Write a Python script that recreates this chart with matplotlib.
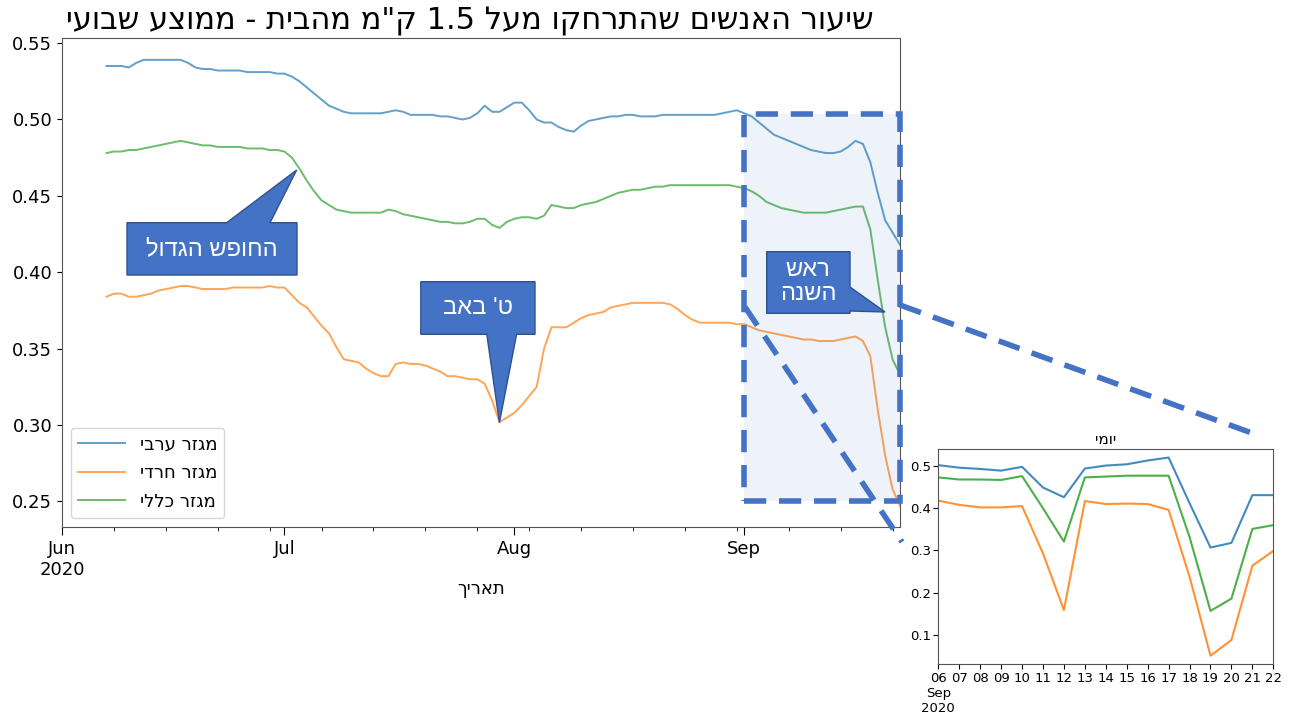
import re
import numpy as np
import pandas as pd
import matplotlib
matplotlib.use('Agg')
import matplotlib.pyplot as plt
import matplotlib.dates as mdates
from matplotlib.patches import Polygon, Rectangle
from matplotlib.ticker import FuncFormatter

plt.rcParams['font.family'] = ['DejaVu Sans']


def heb(s):
    # matplotlib has no bidi: flip the hebrew, keep numbers readable
    s = s[::-1]
    return re.sub(r'[0-9.]+', lambda m: m.group()[::-1], s)


# weekly rolling mean, Jun 7 .. Sep 22 2020
dates = pd.date_range('2020-06-07', '2020-09-22', freq='D')

arab = [0.535, 0.535, 0.535, 0.534, 0.537, 0.539, 0.539, 0.539, 0.539, 0.539, 0.539, 0.537,
        0.534, 0.533, 0.533, 0.532, 0.532, 0.532, 0.532, 0.531, 0.531, 0.531, 0.531, 0.530,
        # jul
        0.530, 0.528, 0.525, 0.521, 0.517, 0.513, 0.509, 0.507, 0.505, 0.504,
        0.504, 0.504, 0.504, 0.504, 0.505, 0.506, 0.505, 0.503, 0.503, 0.503,
        0.503, 0.502, 0.502, 0.501, 0.500, 0.501, 0.504, 0.509, 0.505, 0.505, 0.508,
        # aug
        0.511, 0.511, 0.506, 0.500, 0.498, 0.498, 0.495, 0.493, 0.492, 0.496,
        0.499, 0.500, 0.501, 0.502, 0.502, 0.503, 0.503, 0.502, 0.502, 0.502,
        0.503, 0.503, 0.503, 0.503, 0.503, 0.503, 0.503, 0.503, 0.504, 0.505, 0.506,
        # sep
        0.504, 0.502, 0.498, 0.494, 0.490, 0.488, 0.486, 0.484, 0.482, 0.480,
        0.479, 0.478, 0.478, 0.479, 0.482, 0.486, 0.484, 0.472, 0.452, 0.434, 0.426, 0.418]

haredi = [0.384, 0.386, 0.386, 0.384, 0.384, 0.385, 0.386, 0.388, 0.389, 0.390, 0.391, 0.391,
          0.390, 0.389, 0.389, 0.389, 0.389, 0.390, 0.390, 0.390, 0.390, 0.390, 0.391, 0.390,
          # jul
          0.390, 0.385, 0.380, 0.377, 0.371, 0.365, 0.360, 0.351, 0.343, 0.342,
          0.341, 0.337, 0.334, 0.332, 0.332, 0.340, 0.341, 0.340, 0.340, 0.339,
          0.337, 0.335, 0.332, 0.332, 0.331, 0.330, 0.330, 0.327, 0.316, 0.302, 0.305,
          # aug
          0.308, 0.313, 0.319, 0.325, 0.350, 0.364, 0.364, 0.364, 0.367, 0.370,
          0.372, 0.373, 0.374, 0.377, 0.378, 0.379, 0.380, 0.380, 0.380, 0.380,
          0.380, 0.379, 0.376, 0.372, 0.369, 0.367, 0.367, 0.367, 0.367, 0.367, 0.366,
          # sep
          0.366, 0.364, 0.362, 0.361, 0.360, 0.359, 0.358, 0.357, 0.356, 0.356,
          0.355, 0.355, 0.355, 0.356, 0.357, 0.358, 0.355, 0.345, 0.310, 0.280, 0.258, 0.247]

general = [0.478, 0.479, 0.479, 0.480, 0.480, 0.481, 0.482, 0.483, 0.484, 0.485, 0.486, 0.485,
           0.484, 0.483, 0.483, 0.482, 0.482, 0.482, 0.482, 0.481, 0.481, 0.481, 0.480, 0.480,
           # jul
           0.479, 0.475, 0.468, 0.460, 0.453, 0.447, 0.444, 0.441, 0.440, 0.439,
           0.439, 0.439, 0.439, 0.439, 0.441, 0.440, 0.438, 0.437, 0.436, 0.435,
           0.434, 0.433, 0.433, 0.432, 0.432, 0.433, 0.435, 0.435, 0.431, 0.429, 0.433,
           # aug
           0.435, 0.436, 0.436, 0.435, 0.437, 0.444, 0.443, 0.442, 0.442, 0.444,
           0.445, 0.446, 0.448, 0.450, 0.452, 0.453, 0.454, 0.454, 0.455, 0.456,
           0.456, 0.457, 0.457, 0.457, 0.457, 0.457, 0.457, 0.457, 0.457, 0.457, 0.456,
           # sep
           0.455, 0.453, 0.450, 0.446, 0.444, 0.442, 0.441, 0.440, 0.439, 0.439,
           0.439, 0.439, 0.440, 0.441, 0.442, 0.443, 0.443, 0.428, 0.395, 0.364, 0.343, 0.333]

# daily values, Sep 6 .. Sep 22
days = pd.date_range('2020-09-06', '2020-09-22', freq='D')
arab_daily = [0.502, 0.496, 0.493, 0.489, 0.498, 0.449, 0.426, 0.494, 0.501,
              0.504, 0.513, 0.520, 0.412, 0.307, 0.318, 0.431, 0.431]
haredi_daily = [0.418, 0.408, 0.402, 0.402, 0.405, 0.293, 0.159, 0.417, 0.410,
                0.411, 0.410, 0.396, 0.238, 0.051, 0.088, 0.264, 0.299]
general_daily = [0.473, 0.468, 0.468, 0.467, 0.476, 0.400, 0.321, 0.473, 0.475,
                 0.477, 0.477, 0.477, 0.332, 0.157, 0.186, 0.351, 0.360]

labels = ['מגזר ערבי', 'מגזר חרדי', 'מגזר כללי']
colors = ['tab:blue', 'tab:orange', 'tab:green']
box_blue = '#4472C4'

W, H = 1292, 717
fig = plt.figure(figsize=(W / 100, H / 100), dpi=100)

# ---- main weekly chart
ax = fig.add_axes([62 / W, 1 - 527 / H, (900 - 62) / W, (527 - 38) / H])
for vals, lab, col in zip([arab, haredi, general], labels, colors):
    ax.plot(dates, vals, color=col, lw=1.4, alpha=0.7, label=heb(lab))

ax.set_xlim(pd.Timestamp('2020-06-01'), pd.Timestamp('2020-09-22'))
ax.set_ylim(0.2333, 0.5533)
ax.set_yticks([0.25, 0.30, 0.35, 0.40, 0.45, 0.50, 0.55])
ax.yaxis.set_major_formatter(FuncFormatter(lambda v, p: '%.2f' % v))
ax.xaxis.set_major_locator(mdates.MonthLocator())
ax.xaxis.set_major_formatter(FuncFormatter(
    lambda v, p: mdates.num2date(v).strftime('%b\n%Y') if mdates.num2date(v).month == 6
    else mdates.num2date(v).strftime('%b')))
ax.xaxis.set_minor_locator(mdates.WeekdayLocator(byweekday=mdates.MO))
ax.tick_params(labelsize=13)
ax.tick_params(axis='x', which='major', length=6)
ax.tick_params(axis='x', which='minor', length=3)
for sp in ax.spines.values():
    sp.set_color('#555555')
ax.set_xlabel(heb('תאריך'), fontsize=13, labelpad=1)
ax.legend(loc='lower left', fontsize=13, handlelength=2.6, labelspacing=0.6, framealpha=0.8)

fig.text(470 / W, 1 - 21 / H, heb('שיעור האנשים שהתרחקו מעל 1.5 ק"מ מהבית - ממוצע שבועי'),
         ha='center', va='center', fontsize=22)

# zoom box around rosh hashana
sep1 = mdates.date2num(pd.Timestamp('2020-09-01'))
ax.add_patch(Rectangle((sep1, 0.2502), 21, 0.5034 - 0.2502, facecolor=box_blue, alpha=0.09,
                       edgecolor='none', zorder=3, clip_on=False))
ax.add_patch(Rectangle((sep1, 0.2502), 21, 0.5034 - 0.2502, facecolor='none', edgecolor=box_blue,
                       lw=4, linestyle=(0, (4, 2.3)), zorder=4, clip_on=False))

# ---- overlay in pixel coords for the callouts
ov = fig.add_axes([0, 0, 1, 1], zorder=5)
ov.set_xlim(0, W)
ov.set_ylim(H, 0)
ov.axis('off')

ov.plot([745, 902], [307, 542], color=box_blue, lw=4, linestyle=(0, (4, 2.3)))
ov.plot([900, 1260], [305, 436], color=box_blue, lw=4, linestyle=(0, (4, 2.3)))

callouts = [
    ([(127, 275), (127, 222.7), (226.7, 222.7), (296.7, 170), (270, 222.7),
      (297, 222.7), (297, 275)], (212, 249), 'החופש הגדול'),
    ([(420.8, 281.7), (535, 281.7), (535, 334.3), (516.6, 334.3), (499.4, 422.7),
      (486.8, 334.3), (420.8, 334.3)], (478, 308), "ט' באב"),
    ([(766.7, 251.7), (850, 251.7), (850, 287), (885, 312), (850, 311),
      (850, 313.3), (766.7, 313.3)], (808, 282), 'ראש\nהשנה'),
]
for pts, (tx, ty), txt in callouts:
    ov.add_patch(Polygon(pts, closed=True, facecolor=box_blue, edgecolor='#2F528F', lw=1))
    txt = '\n'.join(heb(t) for t in txt.split('\n'))
    ov.text(tx, ty, txt, color='white', ha='center', va='center', fontsize=17,
            family=['Liberation Sans', 'DejaVu Sans'], linespacing=1.1)

# ---- daily inset
axi = fig.add_axes([938.3 / W, 1 - 664 / H, (1273.3 - 938.3) / W, (664 - 449.3) / H], zorder=6)
for vals, col in zip([arab_daily, haredi_daily, general_daily], colors):
    axi.plot(days, vals, color=col, lw=1.5, alpha=0.85)
axi.set_xlim(days[0], days[-1])
axi.set_ylim(0.0313, 0.5395)
axi.set_yticks([0.1, 0.2, 0.3, 0.4, 0.5])
axi.set_xticks(days)
axi.set_xticklabels(['06\nSep\n2020'] + [d.strftime('%d') for d in days[1:]])
axi.tick_params(labelsize=9.5, pad=2)
for sp in axi.spines.values():
    sp.set_color('#555555')
axi.set_title(heb('יומי'), fontsize=11, pad=4)

fig.savefig('out.png', dpi=100)
